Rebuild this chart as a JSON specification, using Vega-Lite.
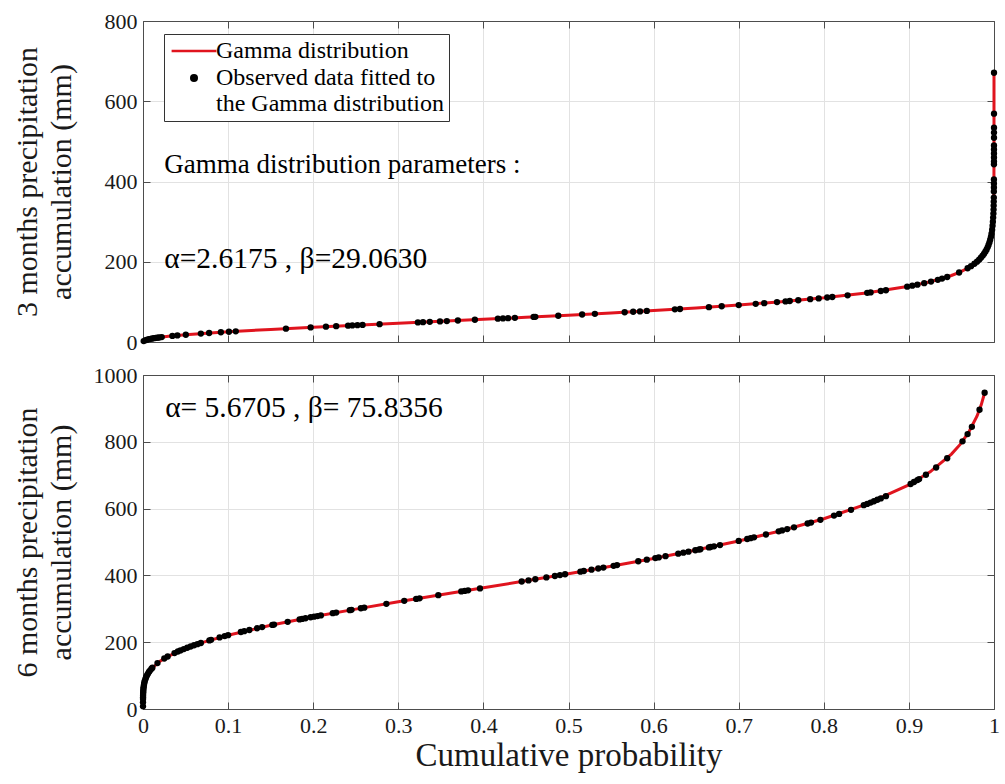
{
  "$schema": "https://vega.github.io/schema/vega-lite/v6.json",
  "background": "white",
  "padding": {"left": 12, "top": 10, "right": 5, "bottom": 3},
  "spacing": 11,
  "resolve": {"scale": {"color": "independent"}},
  "config": {
    "font": "Liberation Serif",
    "view": {"stroke": null},
    "axis": {
      "labelFont": "Liberation Serif", "labelFontSize": 22, "labelColor": "#1a1a1a",
      "titleFont": "Liberation Serif", "titleFontSize": 30, "titleFontWeight": "normal", "titleColor": "#1a1a1a",
      "domainColor": "#4d4d4d", "tickColor": "#4d4d4d", "gridColor": "#e2e2e2", "gridWidth": 1,
      "tickSize": -7, "labelPadding": 13, "labelFlush": false, "labelOverlap": false
    },
    "text": {"font": "Liberation Serif"}
  },
  "datasets": {
    "top": [
      {"kind":"curve","p":0,"mm":0},{"kind":"curve","p":0.0005,"mm":1.7},{"kind":"curve","p":0.001,"mm":2.5},{"kind":"curve","p":0.002,"mm":3.7},{"kind":"curve","p":0.005,"mm":5.9},{"kind":"curve","p":0.01,"mm":8.3},{"kind":"curve","p":0.02,"mm":11.6},{"kind":"curve","p":0.03,"mm":14.1},{"kind":"curve","p":0.05,"mm":18.0},{"kind":"curve","p":0.075,"mm":22.0},{"kind":"curve","p":0.1,"mm":25.4},{"kind":"curve","p":0.15,"mm":31.3},{"kind":"curve","p":0.2,"mm":36.7},{"kind":"curve","p":0.25,"mm":41.7},{"kind":"curve","p":0.3,"mm":46.6},{"kind":"curve","p":0.35,"mm":51.5},{"kind":"curve","p":0.4,"mm":56.5},{"kind":"curve","p":0.45,"mm":61.5},{"kind":"curve","p":0.5,"mm":66.8},{"kind":"curve","p":0.55,"mm":72.3},{"kind":"curve","p":0.6,"mm":78.3},{"kind":"curve","p":0.65,"mm":84.8},{"kind":"curve","p":0.7,"mm":92.0},{"kind":"curve","p":0.75,"mm":100.3},{"kind":"curve","p":0.8,"mm":110.0},{"kind":"curve","p":0.85,"mm":122.2},{"kind":"curve","p":0.9,"mm":138.7},{"kind":"curve","p":0.925,"mm":150.1},{"kind":"curve","p":0.95,"mm":165.7},{"kind":"curve","p":0.96,"mm":174.3},{"kind":"curve","p":0.97,"mm":185.1},{"kind":"curve","p":0.98,"mm":200.2},{"kind":"curve","p":0.985,"mm":210.8},{"kind":"curve","p":0.99,"mm":225.6},{"kind":"curve","p":0.995,"mm":250.7},{"kind":"curve","p":0.998,"mm":283.5},{"kind":"curve","p":0.999,"mm":308},{"kind":"curve","p":0.9995,"mm":332.8},{"kind":"curve","p":0.9999,"mm":389.6},{"kind":"curve","p":0.99999,"mm":471},{"kind":"curve","p":0.999999,"mm":552.6},{"kind":"curve","p":0.9999999,"mm":635},{"kind":"curve","p":0.99999996,"mm":671},
      {"kind":"obs","p":0.0008,"mm":2.2},{"kind":"obs","p":0.003,"mm":4.6},{"kind":"obs","p":0.005,"mm":5.9},{"kind":"obs","p":0.007,"mm":7.0},{"kind":"obs","p":0.009,"mm":7.9},{"kind":"obs","p":0.011,"mm":8.7},{"kind":"obs","p":0.013,"mm":9.5},{"kind":"obs","p":0.015,"mm":10.1},{"kind":"obs","p":0.017,"mm":10.7},{"kind":"obs","p":0.019,"mm":11.3},{"kind":"obs","p":0.022,"mm":12.2},
      {"kind":"obs","p":0.0345,"mm":15.1},{"kind":"obs","p":0.0404,"mm":16.3},{"kind":"obs","p":0.0503,"mm":18.1},{"kind":"obs","p":0.068,"mm":20.9},{"kind":"obs","p":0.0777,"mm":22.4},{"kind":"obs","p":0.0915,"mm":24.3},{"kind":"obs","p":0.101,"mm":25.5},{"kind":"obs","p":0.109,"mm":26.5},{"kind":"obs","p":0.168,"mm":33.3},{"kind":"obs","p":0.197,"mm":36.4},{"kind":"obs","p":0.215,"mm":38.2},{"kind":"obs","p":0.227,"mm":39.4},{"kind":"obs","p":0.241,"mm":40.8},{"kind":"obs","p":0.246,"mm":41.3},{"kind":"obs","p":0.252,"mm":41.9},{"kind":"obs","p":0.258,"mm":42.5},{"kind":"obs","p":0.278,"mm":44.5},{"kind":"obs","p":0.323,"mm":48.9},{"kind":"obs","p":0.329,"mm":49.5},{"kind":"obs","p":0.337,"mm":50.2},{"kind":"obs","p":0.349,"mm":51.4},{"kind":"obs","p":0.357,"mm":52.2},{"kind":"obs","p":0.37,"mm":53.5},{"kind":"obs","p":0.39,"mm":55.5},{"kind":"obs","p":0.417,"mm":58.1},{"kind":"obs","p":0.423,"mm":58.8},{"kind":"obs","p":0.429,"mm":59.4},{"kind":"obs","p":0.437,"mm":60.2},{"kind":"obs","p":0.459,"mm":62.4},{"kind":"obs","p":0.461,"mm":62.7},{"kind":"obs","p":0.488,"mm":65.5},{"kind":"obs","p":0.516,"mm":68.5},{"kind":"obs","p":0.531,"mm":70.2},{"kind":"obs","p":0.566,"mm":74.2},{"kind":"obs","p":0.576,"mm":75.4},{"kind":"obs","p":0.584,"mm":76.3},{"kind":"obs","p":0.592,"mm":77.4},{"kind":"obs","p":0.625,"mm":81.5},{"kind":"obs","p":0.631,"mm":82.3},{"kind":"obs","p":0.665,"mm":86.9},{"kind":"obs","p":0.68,"mm":89.1},{"kind":"obs","p":0.7,"mm":92.0},{"kind":"obs","p":0.72,"mm":95.2},{"kind":"obs","p":0.73,"mm":96.8},{"kind":"obs","p":0.745,"mm":99.4},{"kind":"obs","p":0.755,"mm":101.2},{"kind":"obs","p":0.76,"mm":102.1},{"kind":"obs","p":0.77,"mm":104.0},{"kind":"obs","p":0.784,"mm":106.7},{"kind":"obs","p":0.794,"mm":108.7},{"kind":"obs","p":0.804,"mm":110.9},{"kind":"obs","p":0.81,"mm":112.2},{"kind":"obs","p":0.828,"mm":116.4},{"kind":"obs","p":0.851,"mm":122.5},{"kind":"obs","p":0.855,"mm":123.6},{"kind":"obs","p":0.867,"mm":127.1},{"kind":"obs","p":0.873,"mm":129.0},{"kind":"obs","p":0.898,"mm":137.9},{"kind":"obs","p":0.904,"mm":140.3},{"kind":"obs","p":0.91,"mm":142.9},{"kind":"obs","p":0.918,"mm":146.6},{"kind":"obs","p":0.926,"mm":150.6},{"kind":"obs","p":0.934,"mm":155.0},{"kind":"obs","p":0.939,"mm":158.0},{"kind":"obs","p":0.945,"mm":162.0},{"kind":"obs","p":0.959,"mm":173.3},{"kind":"obs","p":0.969,"mm":183.8},{"kind":"obs","p":0.973,"mm":189.0},{"kind":"obs","p":0.977,"mm":195.0},{"kind":"obs","p":0.98,"mm":200.2},
      {"kind":"obs","p":0.9825,"mm":205},{"kind":"obs","p":0.9846,"mm":210},{"kind":"obs","p":0.9866,"mm":215},{"kind":"obs","p":0.9883,"mm":220},{"kind":"obs","p":0.9898,"mm":225},{"kind":"obs","p":0.9912,"mm":230},{"kind":"obs","p":0.9925,"mm":236},{"kind":"obs","p":0.9936,"mm":242},{"kind":"obs","p":0.9946,"mm":248},{"kind":"obs","p":0.9955,"mm":255},{"kind":"obs","p":0.9964,"mm":262},{"kind":"obs","p":0.9971,"mm":270},{"kind":"obs","p":0.9978,"mm":280},{"kind":"obs","p":0.9983,"mm":290},{"kind":"obs","p":0.9987,"mm":300},{"kind":"obs","p":0.999,"mm":310},{"kind":"obs","p":0.9993,"mm":320},{"kind":"obs","p":0.9995,"mm":330},{"kind":"obs","p":0.9996,"mm":340},{"kind":"obs","p":0.9997,"mm":350},{"kind":"obs","p":0.9998,"mm":360},{"kind":"obs","p":0.99984,"mm":375},{"kind":"obs","p":0.99988,"mm":385},{"kind":"obs","p":0.99991,"mm":395},{"kind":"obs","p":0.99993,"mm":405},{"kind":"obs","p":0.99996,"mm":443},{"kind":"obs","p":0.99997,"mm":450},{"kind":"obs","p":0.99997,"mm":460},{"kind":"obs","p":0.99998,"mm":470},{"kind":"obs","p":0.99998,"mm":480},{"kind":"obs","p":0.99999,"mm":490},{"kind":"obs","p":0.99999,"mm":509},{"kind":"obs","p":0.999995,"mm":522},{"kind":"obs","p":0.999997,"mm":534},{"kind":"obs","p":0.999999,"mm":569},{"kind":"obs","p":0.99999996,"mm":671}
    ],
    "bottom": [
      {"kind":"curve","p":0,"mm":0},{"kind":"curve","p":0.0000001,"mm":6.9},{"kind":"curve","p":0.000001,"mm":13.5},{"kind":"curve","p":0.00001,"mm":24.2},{"kind":"curve","p":0.0001,"mm":41.8},{"kind":"curve","p":0.0005,"mm":60.4},{"kind":"curve","p":0.001,"mm":70.7},{"kind":"curve","p":0.002,"mm":82.8},{"kind":"curve","p":0.005,"mm":102.4},{"kind":"curve","p":0.01,"mm":120.7},{"kind":"curve","p":0.02,"mm":143.0},{"kind":"curve","p":0.03,"mm":158.6},{"kind":"curve","p":0.05,"mm":181.5},{"kind":"curve","p":0.075,"mm":203.1},{"kind":"curve","p":0.1,"mm":221.0},{"kind":"curve","p":0.15,"mm":250.6},{"kind":"curve","p":0.2,"mm":276.0},{"kind":"curve","p":0.25,"mm":299.1},{"kind":"curve","p":0.3,"mm":320.8},{"kind":"curve","p":0.35,"mm":342.0},{"kind":"curve","p":0.4,"mm":362.8},{"kind":"curve","p":0.45,"mm":383.8},{"kind":"curve","p":0.5,"mm":405.2},{"kind":"curve","p":0.55,"mm":427.4},{"kind":"curve","p":0.6,"mm":450.8},{"kind":"curve","p":0.65,"mm":475.8},{"kind":"curve","p":0.7,"mm":503.2},{"kind":"curve","p":0.75,"mm":533.9},{"kind":"curve","p":0.8,"mm":569.5},{"kind":"curve","p":0.85,"mm":613.1},{"kind":"curve","p":0.9,"mm":670.8},{"kind":"curve","p":0.925,"mm":710.0},{"kind":"curve","p":0.95,"mm":763.1},{"kind":"curve","p":0.96,"mm":791.4},{"kind":"curve","p":0.97,"mm":827.2},{"kind":"curve","p":0.98,"mm":876.6},{"kind":"curve","p":0.985,"mm":910.7},{"kind":"curve","p":0.989,"mm":946.9},
      {"kind":"obs","p":0.00000016,"mm":8},{"kind":"obs","p":0.000005,"mm":20},{"kind":"obs","p":0.000024,"mm":30},{"kind":"obs","p":0.000047,"mm":35},{"kind":"obs","p":0.000083,"mm":40},{"kind":"obs","p":0.00014,"mm":45},{"kind":"obs","p":0.00022,"mm":50},{"kind":"obs","p":0.00033,"mm":55},{"kind":"obs","p":0.0005,"mm":60},{"kind":"obs","p":0.00069,"mm":65},{"kind":"obs","p":0.001,"mm":70.7},{"kind":"obs","p":0.0013,"mm":75},{"kind":"obs","p":0.0017,"mm":80},{"kind":"obs","p":0.0022,"mm":85},{"kind":"obs","p":0.003,"mm":90.9},{"kind":"obs","p":0.0036,"mm":95},{"kind":"obs","p":0.0045,"mm":100},{"kind":"obs","p":0.0056,"mm":105},{"kind":"obs","p":0.007,"mm":110.8},{"kind":"obs","p":0.0082,"mm":115},{"kind":"obs","p":0.0098,"mm":120},
      {"kind":"obs","p":0.011,"mm":123.5},{"kind":"obs","p":0.017,"mm":137.4},{"kind":"obs","p":0.025,"mm":151.3},{"kind":"obs","p":0.029,"mm":157.2},{"kind":"obs","p":0.037,"mm":167.4},{"kind":"obs","p":0.041,"mm":172.1},{"kind":"obs","p":0.044,"mm":175.4},{"kind":"obs","p":0.048,"mm":179.5},{"kind":"obs","p":0.052,"mm":183.4},{"kind":"obs","p":0.056,"mm":187.2},{"kind":"obs","p":0.06,"mm":190.8},{"kind":"obs","p":0.064,"mm":194.2},{"kind":"obs","p":0.068,"mm":197.6},{"kind":"obs","p":0.078,"mm":205.4},{"kind":"obs","p":0.08,"mm":207.0},{"kind":"obs","p":0.09,"mm":214.2},{"kind":"obs","p":0.096,"mm":218.3},{"kind":"obs","p":0.1,"mm":221.0},{"kind":"obs","p":0.115,"mm":230.6},{"kind":"obs","p":0.119,"mm":232.9},{"kind":"obs","p":0.125,"mm":236.6},{"kind":"obs","p":0.134,"mm":241.7},{"kind":"obs","p":0.14,"mm":245.2},{"kind":"obs","p":0.152,"mm":251.7},{"kind":"obs","p":0.154,"mm":252.8},{"kind":"obs","p":0.17,"mm":261.1},{"kind":"obs","p":0.184,"mm":268.2},{"kind":"obs","p":0.187,"mm":269.6},{"kind":"obs","p":0.191,"mm":271.6},{"kind":"obs","p":0.197,"mm":274.6},{"kind":"obs","p":0.201,"mm":276.5},{"kind":"obs","p":0.205,"mm":278.3},{"kind":"obs","p":0.209,"mm":280.2},{"kind":"obs","p":0.223,"mm":286.8},{"kind":"obs","p":0.227,"mm":288.7},{"kind":"obs","p":0.243,"mm":295.8},{"kind":"obs","p":0.245,"mm":296.8},{"kind":"obs","p":0.256,"mm":301.7},{"kind":"obs","p":0.26,"mm":303.5},{"kind":"obs","p":0.286,"mm":314.8},{"kind":"obs","p":0.307,"mm":323.8},{"kind":"obs","p":0.321,"mm":329.7},{"kind":"obs","p":0.325,"mm":331.4},{"kind":"obs","p":0.347,"mm":340.8},{"kind":"obs","p":0.374,"mm":352.0},{"kind":"obs","p":0.378,"mm":353.6},{"kind":"obs","p":0.382,"mm":355.4},{"kind":"obs","p":0.396,"mm":361.0},{"kind":"obs","p":0.445,"mm":381.8},{"kind":"obs","p":0.453,"mm":385.1},{"kind":"obs","p":0.461,"mm":388.5},{"kind":"obs","p":0.474,"mm":394.0},{"kind":"obs","p":0.484,"mm":398.3},{"kind":"obs","p":0.49,"mm":400.9},{"kind":"obs","p":0.496,"mm":403.5},{"kind":"obs","p":0.514,"mm":411.3},{"kind":"obs","p":0.518,"mm":413.1},{"kind":"obs","p":0.527,"mm":417.1},{"kind":"obs","p":0.535,"mm":420.7},{"kind":"obs","p":0.541,"mm":423.3},{"kind":"obs","p":0.553,"mm":428.7},{"kind":"obs","p":0.557,"mm":430.8},{"kind":"obs","p":0.582,"mm":442.3},{"kind":"obs","p":0.592,"mm":447.0},{"kind":"obs","p":0.602,"mm":451.9},{"kind":"obs","p":0.606,"mm":453.8},{"kind":"obs","p":0.614,"mm":457.7},{"kind":"obs","p":0.629,"mm":465.1},{"kind":"obs","p":0.635,"mm":468.1},{"kind":"obs","p":0.641,"mm":471.1},{"kind":"obs","p":0.649,"mm":475.2},{"kind":"obs","p":0.653,"mm":477.3},{"kind":"obs","p":0.655,"mm":478.3},{"kind":"obs","p":0.665,"mm":483.7},{"kind":"obs","p":0.667,"mm":485.0},{"kind":"obs","p":0.671,"mm":487.1},{"kind":"obs","p":0.678,"mm":490.8},{"kind":"obs","p":0.7,"mm":503.2},{"kind":"obs","p":0.71,"mm":509.0},{"kind":"obs","p":0.714,"mm":511.4},{"kind":"obs","p":0.718,"mm":513.9},{"kind":"obs","p":0.732,"mm":522.5},{"kind":"obs","p":0.747,"mm":532.0},{"kind":"obs","p":0.751,"mm":534.6},{"kind":"obs","p":0.757,"mm":538.7},{"kind":"obs","p":0.765,"mm":544.0},{"kind":"obs","p":0.781,"mm":555.3},{"kind":"obs","p":0.785,"mm":558.2},{"kind":"obs","p":0.796,"mm":566.4},{"kind":"obs","p":0.812,"mm":579.1},{"kind":"obs","p":0.818,"mm":584.1},{"kind":"obs","p":0.832,"mm":596.2},{"kind":"obs","p":0.847,"mm":610.3},{"kind":"obs","p":0.851,"mm":614.0},{"kind":"obs","p":0.855,"mm":618.0},{"kind":"obs","p":0.859,"mm":622.1},{"kind":"obs","p":0.863,"mm":626.4},{"kind":"obs","p":0.867,"mm":630.6},{"kind":"obs","p":0.873,"mm":637.2},{"kind":"obs","p":0.902,"mm":673.6},{"kind":"obs","p":0.906,"mm":679.6},{"kind":"obs","p":0.91,"mm":685.3},{"kind":"obs","p":0.912,"mm":688.3},{"kind":"obs","p":0.92,"mm":701.3},{"kind":"obs","p":0.932,"mm":723.0},{"kind":"obs","p":0.945,"mm":750.7},{"kind":"obs","p":0.963,"mm":801.3},{"kind":"obs","p":0.969,"mm":823.0},{"kind":"obs","p":0.974,"mm":844.7},{"kind":"obs","p":0.983,"mm":895.9},{"kind":"obs","p":0.989,"mm":946.9}
    ],
    "notes_top_head": [
      {"p":0.025,"mm":441,"label":"Gamma distribution parameters :"}
    ],
    "notes_top_par": [
      {"p":0.025,"mm":207,"label":"α=2.6175 , β=29.0630"}
    ],
    "notes_bottom": [
      {"p":0.026,"mm":901,"label":"α= 5.6705 , β= 75.8356"}
    ]
  },
  "vconcat": [
    {
      "width": 851, "height": 321,
      "resolve": {"axis": {"x": "independent", "y": "independent"}},
      "layer": [
        {
          "data": {"name": "top"},
          "transform": [{"filter": "datum.kind === 'curve'"}],
          "mark": {"type": "line", "strokeWidth": 3},
          "encoding": {
            "x": {"field": "p", "type": "quantitative", "scale": {"domain": [0, 1], "nice": false, "zero": false},
                  "axis": {"orient": "bottom", "values": [0,0.1,0.2,0.3,0.4,0.5,0.6,0.7,0.8,0.9,1], "labels": false, "title": null, "grid": true}},
            "y": {"field": "mm", "type": "quantitative", "scale": {"domain": [0, 800], "nice": false},
                  "axis": {"orient": "left", "values": [0,200,400,600,800], "grid": true, "format": "d",
                           "title": ["3 months precipitation", "accumulation (mm)"], "titlePadding": 15, "minExtent": 52, "titleLineHeight": 34}},
            "color": {"field": "kind", "type": "nominal",
                      "scale": {"domain": ["curve", "obs"], "range": ["#e0141e", "black"]},
                      "legend": {
                        "title": null, "orient": "none", "legendX": 21, "legendY": 13,
                        "labelExpr": "datum.value === 'curve' ? 'Gamma distribution' : ['Observed data fitted to', '\u00a0the Gamma distribution']",
                        "labelFont": "Liberation Serif", "labelFontSize": 24, "labelColor": "black", "labelLimit": 400,
                        "symbolSize": 64, "symbolOffset": 13, "labelOffset": 10, "padding": 5, "rowPadding": 3,
                        "strokeColor": "#333333", "fillColor": "white",
                        "encode": {
                          "symbols": {"update": {
                            "shape": {"signal": "datum.value === 'curve' ? 'M-5.6,0L5.6,0' : 'circle'"},
                            "stroke": {"signal": "datum.value === 'curve' ? '#e0141e' : 'black'"},
                            "fill": {"signal": "datum.value === 'curve' ? 'transparent' : 'black'"},
                            "strokeWidth": {"signal": "datum.value === 'curve' ? 2.5 : 0"},
                            "opacity": {"value": 1}
                          }},
                          "labels": {"update": {"lineHeight": {"value": 26}}}
                        }
                      }}
          }
        },
        {
          "data": {"name": "top"},
          "transform": [{"filter": "datum.kind === 'obs'"}],
          "mark": {"type": "point", "filled": true, "size": 40, "opacity": 1},
          "encoding": {
            "x": {"field": "p", "type": "quantitative", "scale": {"domain": [0, 1], "nice": false, "zero": false},
                  "axis": {"orient": "top", "values": [0,0.1,0.2,0.3,0.4,0.5,0.6,0.7,0.8,0.9,1], "labels": false, "title": null, "grid": false}},
            "y": {"field": "mm", "type": "quantitative", "scale": {"domain": [0, 800], "nice": false},
                  "axis": {"orient": "right", "values": [0,200,400,600,800], "labels": false, "title": null, "grid": false}},
            "color": {"field": "kind", "type": "nominal"}
          }
        },
        {
          "data": {"name": "notes_top_head"},
          "mark": {"type": "text", "align": "left", "baseline": "middle", "fontSize": 27, "font": "Liberation Serif", "color": "black"},
          "encoding": {
            "x": {"field": "p", "type": "quantitative", "axis": null},
            "y": {"field": "mm", "type": "quantitative", "axis": null},
            "text": {"field": "label"}
          }
        },
        {
          "data": {"name": "notes_top_par"},
          "mark": {"type": "text", "align": "left", "baseline": "middle", "fontSize": 29.5, "font": "Liberation Serif", "color": "black"},
          "encoding": {
            "x": {"field": "p", "type": "quantitative", "axis": null},
            "y": {"field": "mm", "type": "quantitative", "axis": null},
            "text": {"field": "label"}
          }
        }
      ]
    },
    {
      "width": 851, "height": 334,
      "resolve": {"axis": {"x": "independent", "y": "independent"}},
      "layer": [
        {
          "data": {"name": "bottom"},
          "transform": [{"filter": "datum.kind === 'curve'"}],
          "mark": {"type": "line", "strokeWidth": 3, "color": "#e0141e"},
          "encoding": {
            "x": {"field": "p", "type": "quantitative", "scale": {"domain": [0, 1], "nice": false, "zero": false},
                  "axis": {"orient": "bottom", "values": [0,0.1,0.2,0.3,0.4,0.5,0.6,0.7,0.8,0.9,1], "format": "~g", "grid": true,
                           "title": "Cumulative probability", "titlePadding": 3, "titleFontSize": 33}},
            "y": {"field": "mm", "type": "quantitative", "scale": {"domain": [0, 1000], "nice": false},
                  "axis": {"orient": "left", "values": [0,200,400,600,800,1000], "grid": true, "format": "d",
                           "title": ["6 months precipitation", "accumulation (mm)"], "titlePadding": 15, "minExtent": 52, "titleLineHeight": 34}}
          }
        },
        {
          "data": {"name": "bottom"},
          "transform": [{"filter": "datum.kind === 'obs'"}],
          "mark": {"type": "point", "filled": true, "size": 40, "opacity": 1, "color": "black"},
          "encoding": {
            "x": {"field": "p", "type": "quantitative", "scale": {"domain": [0, 1], "nice": false, "zero": false},
                  "axis": {"orient": "top", "values": [0,0.1,0.2,0.3,0.4,0.5,0.6,0.7,0.8,0.9,1], "labels": false, "title": null, "grid": false}},
            "y": {"field": "mm", "type": "quantitative", "scale": {"domain": [0, 1000], "nice": false},
                  "axis": {"orient": "right", "values": [0,200,400,600,800,1000], "labels": false, "title": null, "grid": false}}
          }
        },
        {
          "data": {"name": "notes_bottom"},
          "mark": {"type": "text", "align": "left", "baseline": "middle", "fontSize": 29.5, "font": "Liberation Serif", "color": "black"},
          "encoding": {
            "x": {"field": "p", "type": "quantitative", "axis": null},
            "y": {"field": "mm", "type": "quantitative", "axis": null},
            "text": {"field": "label"}
          }
        }
      ]
    }
  ]
}
